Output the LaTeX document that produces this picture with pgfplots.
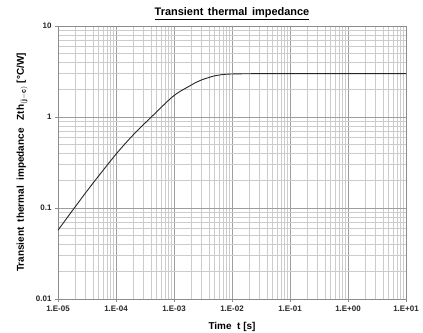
\documentclass[border=0pt]{standalone}
\usepackage{pgfplots}
\pgfplotsset{compat=1.18}
\usepackage{fontspec}
\setmainfont{Liberation Sans}
\begin{document}
\begin{tikzpicture}
\begin{axis}[
  name=ax,
  scale only axis,
  width=348bp, height=273bp,
  xmode=log, ymode=log,
  xmin=1e-5, xmax=1e1, ymin=0.01, ymax=10,
  xtick={1e-5,1e-4,1e-3,1e-2,1e-1,1e0,1e1},
  xticklabels={1.E-05,1.E-04,1.E-03,1.E-02,1.E-01,1.E+00,1.E+01},
  ytick={0.01,0.1,1,10},
  yticklabels={0.01,0.1,1,10},
  grid=both,
  major grid style={draw=black!38, line width=0.5pt},
  minor grid style={draw=black!20, line width=0.5pt},
  axis line style={draw=black!45},
  tick style={draw=black!45},
  major tick length=3bp,
  minor tick length=0pt,
  tick align=outside,
  xtick pos=bottom, ytick pos=left,
  ticklabel style={font=\fontsize{8}{9}\selectfont\bfseries, text=black!85},
  x label style={font=\fontsize{10}{11}\selectfont\bfseries, at={(axis description cs:0.5,-0.072)}, anchor=north},
  y label style={font=\fontsize{10}{11}\selectfont\bfseries, at={(axis description cs:-0.103,0.5)}, anchor=center},
  xlabel={Time\ \ t [s]},
  ylabel={Transient\ \ thermal\ \ impedance\ \ \ Zth$_{\mathbf{(j-c)}}$ [\textdegree C/W]},
  every axis title shift=0pt,
  title={\underline{Transient\hspace{1.5pt} thermal\hspace{1.5pt} impedance}},
  title style={font=\fontsize{11}{12}\selectfont\bfseries, at={(axis description cs:0.5,1.04)}, anchor=base},
]
\addplot[black!85, line width=0.9pt, smooth] coordinates {
(1e-5,0.057) (2e-5,0.104) (4e-5,0.187) (1e-4,0.39) (2e-4,0.64) (4.4e-4,1.05)
(1e-3,1.72) (2e-3,2.25) (2.5e-3,2.43) (3e-3,2.56) (4e-3,2.72) (5e-3,2.83)
(7e-3,2.93) (1e-2,2.97) (2e-2,2.99) (5e-2,3.0) (1e-1,3.0) (1,3.0) (10,3.0)
};
\end{axis}
\pgfresetboundingbox
\path ([xshift=-58bp,yshift=-34bp]ax.south west) rectangle ([xshift=17bp,yshift=26bp]ax.north east);
\end{tikzpicture}
\end{document}
